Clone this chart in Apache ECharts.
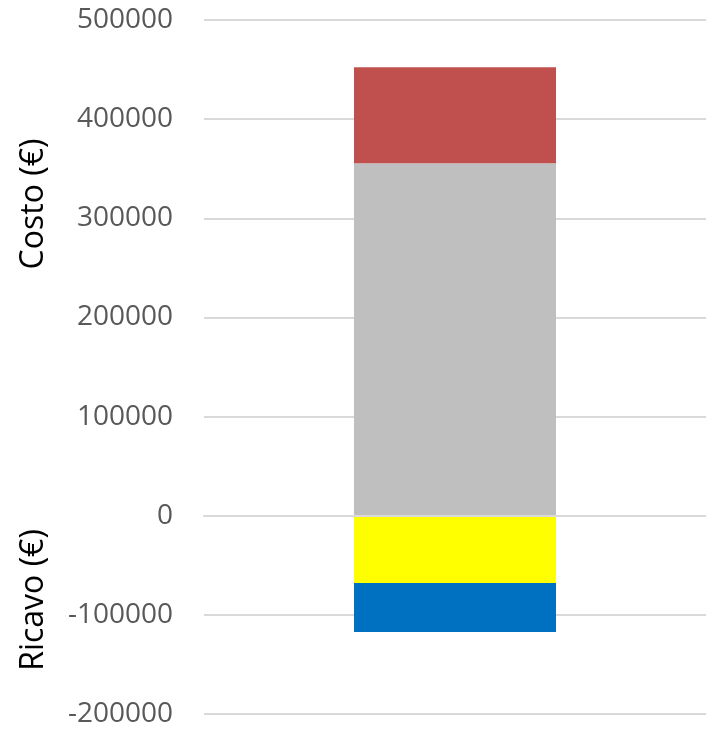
<!DOCTYPE html>
<html>
<head>
<meta charset="utf-8">
<script src="https://cdn.jsdelivr.net/npm/echarts@6/dist/echarts.min.js"></script>
<style>
  html, body { margin: 0; padding: 0; background: #fff; }
  #chart { width: 706px; height: 729px; }
</style>
</head>
<body>
<div id="chart"></div>
<script>
const categories = ['']
// costi (positivi)
const costoBase = [355500]
const costoExtra = [96800]
// ricavi (negativi)
const ricavoA = [-67800]
const ricavoB = [-49400]

const yMin = -200000
const yMax = 500000
const yStep = 100000

const font = '"Open Sans", "Liberation Sans", sans-serif'

const chart = echarts.init(document.getElementById('chart'))

const barSeries = (data, color) => ({
  type: 'bar',
  stack: 'tot',
  data: data,
  barWidth: 202,
  itemStyle: { color: color },
  animation: false
})

const option = {
  animation: false,
  grid: { left: 204, right: 0, top: 20, bottom: 15, containLabel: false },
  xAxis: {
    type: 'category',
    data: categories,
    z: 5,
    axisLine: { onZero: true, lineStyle: { color: '#d9d9d9', width: 2 } },
    axisTick: { show: false },
    axisLabel: { show: false }
  },
  yAxis: {
    type: 'value',
    min: yMin,
    max: yMax,
    interval: yStep,
    axisLine: { show: false },
    axisTick: { show: false },
    splitLine: { lineStyle: { color: '#d9d9d9', width: 2 } },
    axisLabel: {
      color: '#595959', fontSize: 28, fontFamily: font, margin: 31,
      formatter: (v) => String(v)
    }
  },
  graphic: [
    {
      type: 'text', x: 34, y: 204, rotation: Math.PI / 2,
      style: { text: 'Costo (€)', fontSize: 32, fontFamily: font, fill: '#000', align: 'center', verticalAlign: 'middle' }
    },
    {
      type: 'text', x: 34, y: 600, rotation: Math.PI / 2,
      style: { text: 'Ricavo (€)', fontSize: 32, fontFamily: font, fill: '#000', align: 'center', verticalAlign: 'middle' }
    }
  ],
  series: [
    barSeries(costoBase, '#bfbfbf'),
    barSeries(costoExtra, '#c0504d'),
    barSeries(ricavoA, '#ffff00'),
    barSeries(ricavoB, '#0070c0')
  ]
}

chart.setOption(option)
</script>
</body>
</html>
